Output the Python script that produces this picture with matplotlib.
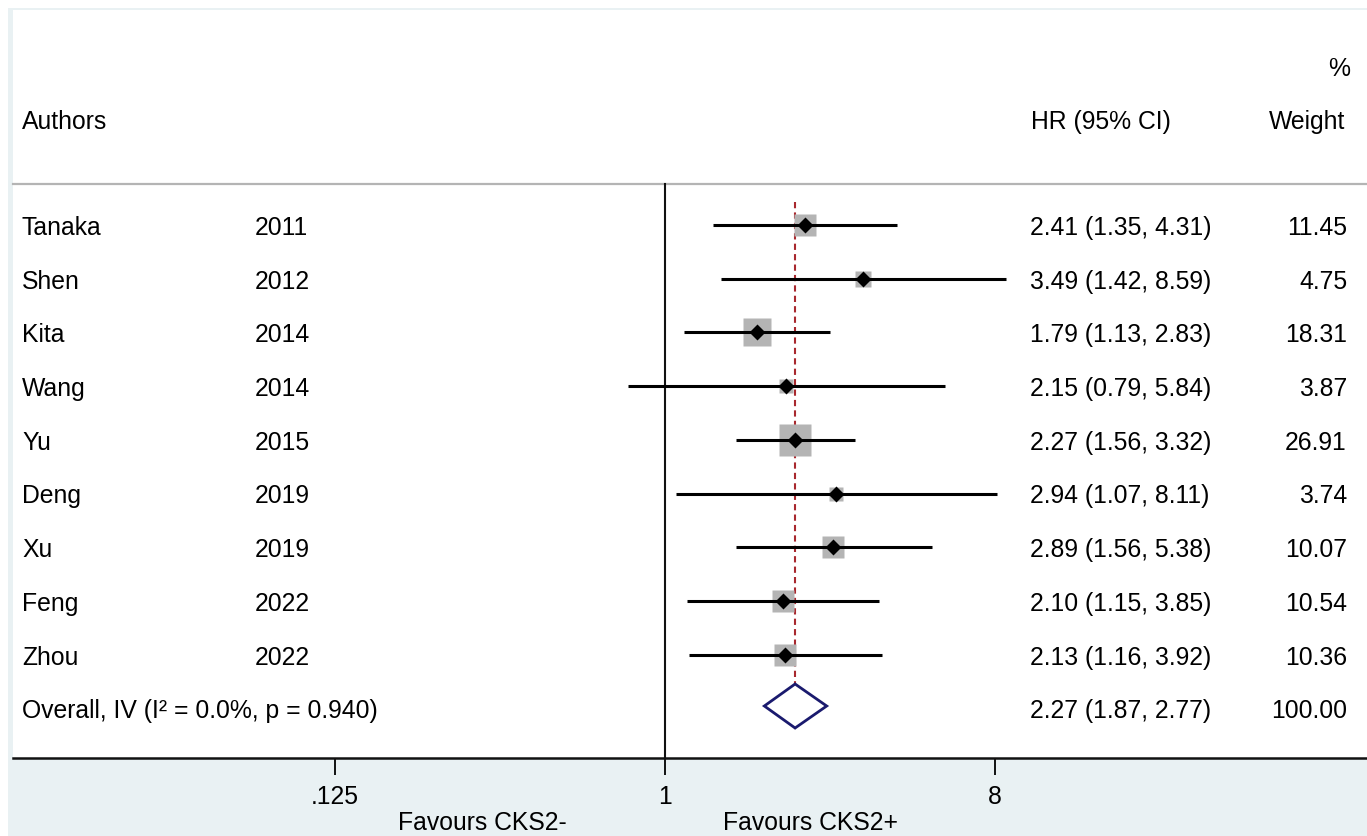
import numpy as np
import matplotlib
matplotlib.use("Agg")
import matplotlib.pyplot as plt
from matplotlib.patches import Polygon

plt.rcParams['font.family'] = ['Liberation Sans', 'DejaVu Sans']

# ---------------- data ----------------
authors = ["Tanaka", "Shen", "Kita", "Wang", "Yu", "Deng", "Xu", "Feng", "Zhou"]
years = ["2011", "2012", "2014", "2014", "2015", "2019", "2019", "2022", "2022"]
hr = [2.41, 3.49, 1.79, 2.15, 2.27, 2.94, 2.89, 2.10, 2.13]
lo = [1.35, 1.42, 1.13, 0.79, 1.56, 1.07, 1.56, 1.15, 1.16]
hi = [4.31, 8.59, 2.83, 5.84, 3.32, 8.11, 5.38, 3.85, 3.92]
weights = [11.45, 4.75, 18.31, 3.87, 26.91, 3.74, 10.07, 10.54, 10.36]
overall_hr, overall_lo, overall_hi = 2.27, 1.87, 2.77
overall_label = "Overall, IV (I² = 0.0%, p = 0.940)"
tick_vals = [0.125, 1, 8]
tick_labels = [".125", "1", "8"]

# ---------------- layout ----------------
W, H = 1367, 837
fig = plt.figure(figsize=(W / 100, H / 100), dpi=100, facecolor="white")
blue = "#e9f1f3"
bg = fig.add_axes([8 / W, 0, 1 - 8 / W, 1 - 9 / H], zorder=-5)
bg.set_facecolor(blue)
bg.set_xticks([]); bg.set_yticks([])
for s in bg.spines.values():
    s.set_visible(False)

ax_l, ax_r, ax_t, ax_b = 13, 1367, 11, 759
ax = fig.add_axes([ax_l / W, 1 - ax_b / H, (ax_r - ax_l) / W, (ax_b - ax_t) / H], zorder=1)
ax.set_facecolor("white")
ax.set_xscale("log", base=2)
px_one, px_per_doubling = 665, 110.0
ax.set_xlim(2 ** ((ax_l - px_one) / px_per_doubling), 2 ** ((ax_r - px_one) / px_per_doubling))
row0, row_step = 226, 53.7
ax.set_ylim((ax_b - row0) / row_step, (ax_t - row0) / row_step)

def py(p):
    return (p - row0) / row_step

def pxf(p):
    return (p - ax_l) / (ax_r - ax_l)

tdy = 2 / row_step  # small downward nudge for text

for s in ["top", "left", "right"]:
    ax.spines[s].set_visible(False)
ax.spines["bottom"].set_linewidth(1.8)
ax.spines["bottom"].set_color("#111111")

ax.set_xticks(tick_vals)
ax.set_xticklabels(tick_labels)
ax.xaxis.set_minor_locator(matplotlib.ticker.NullLocator())
ax.tick_params(axis="x", length=12, width=1.4, pad=7, labelsize=17.8, color="#111111")
ax.set_yticks([])

fs = 17.8
tr = ax.get_yaxis_transform()  # x axes fraction, y data

# header
ax.text(pxf(22), py(120) + tdy, "Authors", fontsize=fs, va="center", ha="left", transform=tr)
ax.text(pxf(1031), py(120) + tdy, "HR (95% CI)", fontsize=fs, va="center", ha="left", transform=tr)
ax.text(pxf(1345), py(120) + tdy, "Weight", fontsize=fs, va="center", ha="right", transform=tr)
ax.text(pxf(1350), py(67) + tdy, "%", fontsize=fs, va="center", ha="right", transform=tr)
ax.plot([0, 1], [py(185), py(185)], color="#b4b4b4", lw=1.6, transform=tr, clip_on=False)

# null line
ax.plot([1, 1], [py(185), py(759)], color="#111111", lw=1.5, zorder=2)

# overall dashed line
ax.plot([overall_hr, overall_hr], [py(203), py(733)], color="#a8282e", lw=1.5,
        dashes=(3.0, 2.0), zorder=2)

n = len(authors)
rows = np.arange(n)
for i in range(n):
    ax.text(pxf(22), rows[i] + tdy, authors[i], fontsize=fs, va="center", ha="left", transform=tr)
    ax.text(pxf(255), rows[i] + tdy, years[i], fontsize=fs, va="center", ha="left", transform=tr)
    ax.text(pxf(1030), rows[i] + tdy, f"{hr[i]:.2f} ({lo[i]:.2f}, {hi[i]:.2f})", fontsize=fs,
            va="center", ha="left", transform=tr)
    ax.text(pxf(1347), rows[i] + tdy, f"{weights[i]:.2f}", fontsize=fs, va="center", ha="right",
            transform=tr)
    side_px = 4.5 + 5.3 * np.sqrt(weights[i])
    ax.plot([hr[i]], [rows[i]], marker="s", ms=side_px * 0.72, color="#b4b4b4",
            mec="none", zorder=3)
    ax.plot([lo[i], hi[i]], [rows[i], rows[i]], color="black", lw=2.2, zorder=4,
            solid_capstyle="butt")
    ax.plot([hr[i]], [rows[i]], marker="D", ms=8.5, color="black", mec="none", zorder=5)

# overall
yo = n
ax.text(pxf(22), yo + tdy, overall_label, fontsize=fs, va="center", ha="left", transform=tr)
ax.text(pxf(1030), yo + tdy, f"{overall_hr:.2f} ({overall_lo:.2f}, {overall_hi:.2f})", fontsize=fs,
        va="center", ha="left", transform=tr)
ax.text(pxf(1347), yo + tdy, "100.00", fontsize=fs, va="center", ha="right", transform=tr)
yc = py(707)
dh = 22 / row_step
dia = Polygon([[overall_lo, yc], [overall_hr, yc - dh], [overall_hi, yc], [overall_hr, yc + dh]],
              closed=True, facecolor="white", edgecolor="#1a1a6e", lw=2.0, zorder=5)
ax.add_patch(dia)

# favours labels
fig.text(482 / W, 1 - 823 / H, "Favours CKS2-", fontsize=fs, ha="center", va="center")
fig.text(811 / W, 1 - 823 / H, "Favours CKS2+", fontsize=fs, ha="center", va="center")

fig.savefig("out.png", dpi=100, facecolor="white")
